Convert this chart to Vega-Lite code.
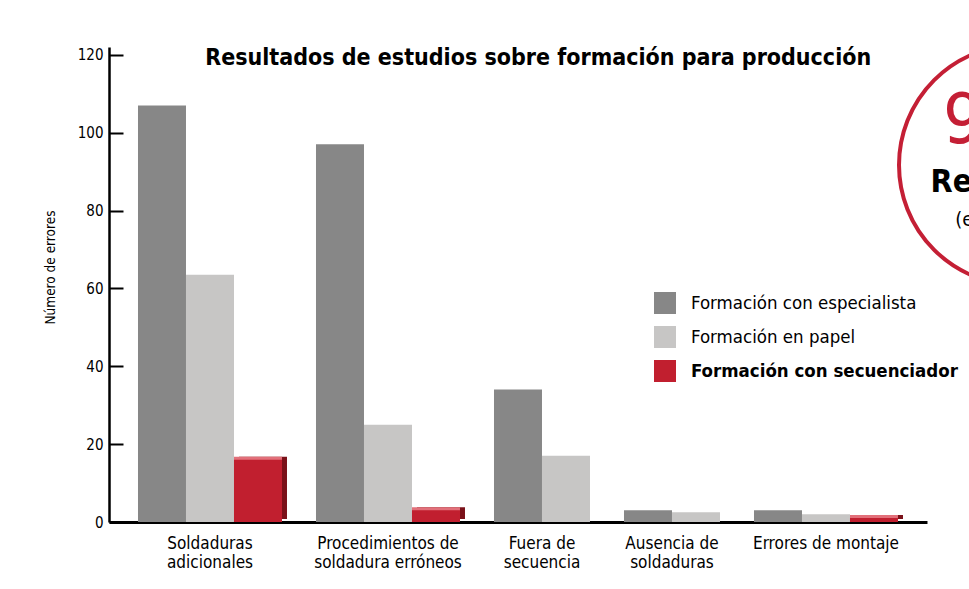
{
  "$schema": "https://vega.github.io/schema/vega-lite/v6.json",
  "background": "white",
  "padding": {"left": 43, "top": 37, "right": 0, "bottom": 0},
  "spacing": -36,
  "title": {
    "text": "Resultados de estudios sobre formación para producción",
    "font": "DejaVu Sans Condensed, sans-serif",
    "fontSize": 23,
    "fontWeight": "bold",
    "color": "black",
    "anchor": "start",
    "dx": 162,
    "offset": -33
  },
  "config": {
    "view": {"stroke": null},
    "font": "DejaVu Sans Condensed, sans-serif"
  },
  "datasets": {
    "errores": [
      {"categoria": "Soldaduras adicionales", "serie": "Formación con especialista", "valor": 107},
      {"categoria": "Soldaduras adicionales", "serie": "Formación en papel", "valor": 63.5},
      {"categoria": "Soldaduras adicionales", "serie": "Formación con secuenciador", "valor": 16},
      {"categoria": "Procedimientos de soldadura erróneos", "serie": "Formación con especialista", "valor": 97},
      {"categoria": "Procedimientos de soldadura erróneos", "serie": "Formación en papel", "valor": 25},
      {"categoria": "Procedimientos de soldadura erróneos", "serie": "Formación con secuenciador", "valor": 3},
      {"categoria": "Fuera de secuencia", "serie": "Formación con especialista", "valor": 34},
      {"categoria": "Fuera de secuencia", "serie": "Formación en papel", "valor": 17},
      {"categoria": "Ausencia de soldaduras", "serie": "Formación con especialista", "valor": 3},
      {"categoria": "Ausencia de soldaduras", "serie": "Formación en papel", "valor": 2.5},
      {"categoria": "Errores de montaje", "serie": "Formación con especialista", "valor": 3},
      {"categoria": "Errores de montaje", "serie": "Formación en papel", "valor": 2},
      {"categoria": "Errores de montaje", "serie": "Formación con secuenciador", "valor": 1}
    ]
  },
  "hconcat": [
    {
      "data": {"name": "errores"},
      "facet": {
        "column": {
          "field": "categoria",
          "type": "nominal",
          "sort": ["Soldaduras adicionales", "Procedimientos de soldadura erróneos", "Fuera de secuencia", "Ausencia de soldaduras", "Errores de montaje"],
          "header": {
            "title": null,
            "labelOrient": "bottom",
            "labelFontSize": 17,
            "labelColor": "black",
            "labelPadding": 14,
            "labelLineHeight": 19,
            "labelExpr": "datum.value == 'Soldaduras adicionales' ? ['Soldaduras', 'adicionales'] : datum.value == 'Procedimientos de soldadura erróneos' ? ['Procedimientos de', 'soldadura erróneos'] : datum.value == 'Fuera de secuencia' ? ['Fuera de', 'secuencia'] : datum.value == 'Ausencia de soldaduras' ? ['Ausencia de', 'soldaduras'] : datum.value"
          }
        }
      },
      "spacing": -24,
      "resolve": {"scale": {"x": "independent"}},
      "spec": {
        "width": {"step": 48},
        "height": 475,
        "encoding": {
          "x": {
            "field": "serie",
            "type": "nominal",
            "sort": ["Formación con especialista", "Formación en papel", "Formación con secuenciador"],
            "scale": {"paddingInner": 0, "paddingOuter": 0.604},
            "axis": {"title": null, "labels": false, "ticks": false, "domainColor": "black", "domainWidth": 3}
          },
          "y": {
            "field": "valor",
            "type": "quantitative",
            "scale": {"domain": [0, 122], "nice": false},
            "axis": {
              "title": "Número de errores",
              "titleFontSize": 13.5,
              "titleFontWeight": "normal",
              "titleColor": "black",
              "titlePadding": 20,
              "titleY": 220,
              "values": [0, 20, 40, 60, 80, 100, 120],
              "grid": false,
              "domainColor": "black",
              "domainWidth": 2.5,
              "tickColor": "black",
              "tickWidth": 2,
              "tickSize": -14,
              "labelFontSize": 15,
              "labelColor": "black",
              "labelPadding": 20
            }
          }
        },
        "layer": [
          {
            "transform": [{"filter": "datum.serie == 'Formación con secuenciador'"}],
            "mark": {"type": "bar", "color": "#7a1119", "xOffset": 5, "yOffset": -3}
          },
          {
            "transform": [{"filter": "datum.serie == 'Formación con secuenciador'"}],
            "mark": {"type": "bar", "color": "#e2707a", "yOffset": -3}
          },
          {
            "mark": {"type": "bar"},
            "encoding": {
              "color": {
                "field": "serie",
                "type": "nominal",
                "scale": {
                  "domain": ["Formación con especialista", "Formación en papel", "Formación con secuenciador"],
                  "range": ["#878787", "#c7c6c5", "#c11f2f"]
                },
                "legend": {
                  "title": null,
                  "orient": "none",
                  "legendX": 545,
                  "legendY": 245,
                  "symbolType": "square",
                  "symbolSize": 484,
                  "symbolStrokeWidth": 0,
                  "symbolOpacity": 1,
                  "labelFontSize": 18.5,
                  "labelColor": "black",
                  "labelOffset": 15,
                  "rowPadding": 12,
                  "labelLimit": 400,
                  "encode": {
                    "labels": {
                      "update": {
                        "fontWeight": {"signal": "datum.label == 'Formación con secuenciador' ? 'bold' : 'normal'"}
                      }
                    }
                  }
                }
              }
            }
          }
        ]
      }
    },
    {
      "width": 136,
      "height": 236,
      "data": {"values": [{"cifra": "90%", "texto": "Reducción", "nota": "(en promedio)"}]},
      "layer": [
        {
          "mark": {"type": "point", "shape": "circle", "size": 57600, "filled": false, "stroke": "#c41f35", "strokeWidth": 4, "opacity": 1},
          "encoding": {}
        },
        {
          "mark": {"type": "text", "fontSize": 70, "color": "#c41f35", "dy": -43, "dx": -6},
          "encoding": {"text": {"field": "cifra"}}
        },
        {
          "mark": {"type": "text", "fontSize": 32, "fontWeight": "bold", "color": "black", "dy": 17, "dx": -5},
          "encoding": {"text": {"field": "texto"}}
        },
        {
          "mark": {"type": "text", "fontSize": 20, "color": "black", "dy": 55},
          "encoding": {"text": {"field": "nota"}}
        }
      ]
    }
  ]
}
